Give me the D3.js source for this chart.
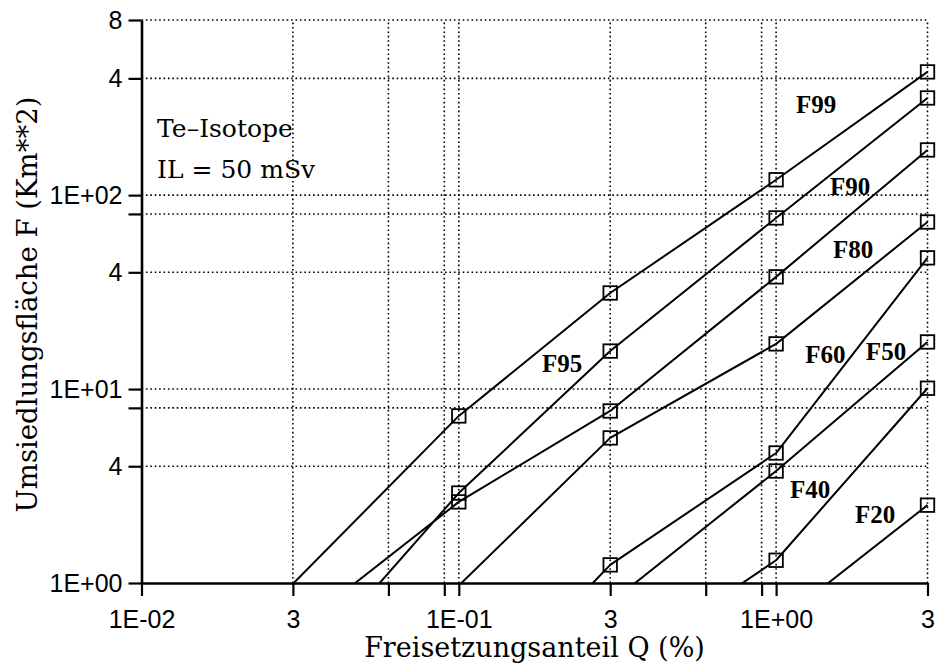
<!DOCTYPE html>
<html><head><meta charset="utf-8">
<script src="https://cdn.jsdelivr.net/npm/d3@7"></script>
<style>
html,body{margin:0;padding:0;background:#fff;}
svg{display:block;}
</style></head><body>
<svg id="chart" width="938" height="668"></svg>
<script>
// ---- data ----
const qValues = [0.03, 0.1, 0.3, 1, 3];               // Freisetzungsanteil Q (%)
const seriesNames = ["F99","F95","F90","F80","F60","F50","F40","F20"];
const f99 = [0.99, 7.27, 31.3, 120, 432];
const f95 = [0.31, 2.91, 15.7, 76.3, 317];
const f90 = [0.56, 2.62, 7.71, 37.9, 171];
const f80 = [null, 0.97, 5.6, 17.1, 72.7];
const f60 = [null, 0.19, 1.24, 4.68, 47.5];
const f50 = [null, null, 0.79, 3.78, 17.5];
const f40 = [null, null, 0.345, 1.31, 10.1];
const f20 = [null, null, null, 0.615, 2.52];
const xTickValues = [0.01, 0.03, 0.06, 0.09, 0.1, 0.3, 0.6, 0.9, 1, 3];
const xTickLabels = ["1E-02","3","","","1E-01","3","","","1E+00","3"];
const yTickValues = [1, 4, 8, 10, 40, 80, 100, 400, 800];
const yTickLabels = ["1E+00","4","","1E+01","4","","1E+02","4","8"];
// series label anchors, in data units (Q, F)
const labelQ = [1.336, 0.2115, 1.71, 1.75, 1.43, 2.22, 1.28, 2.05];
const labelF = [265, 12.2, 100, 47.4, 13.6, 14.1, 2.74, 2.04];
const noteLines = ["Te–Isotope", "IL = 50 mSv"];
const noteQ = [0.0112, 0.0112];
const noteF = [200, 123];
const xTitle = "Freisetzungsanteil Q (%)";
const yTitle = "Umsiedlungsfläche F (Km**2)";

const seriesValues = [f99, f95, f90, f80, f60, f50, f40, f20];

// ---- layout ----
const svg = d3.select("#chart");
const x = d3.scaleLog().domain([0.01, 3]).range([141.5, 927.5]);
const y = d3.scaleLog().domain([1, 800]).range([583, 20]);
const [x0, x1] = x.range();
const [y0, y1] = y.range();

// clip
svg.append("defs").append("clipPath").attr("id","plotclip")
  .append("rect").attr("x", x0).attr("y", 0).attr("width", x1 - x0 + 10).attr("height", y0);

// gridlines
const grid = svg.append("g").attr("stroke","#000").attr("stroke-width",1.6)
  .attr("stroke-dasharray","1.6,2.8").attr("fill","none");
grid.selectAll("line.v").data(xTickValues.filter(v => v > 0.01)).join("line")
  .attr("class","v")
  .attr("x1", d => x(d)).attr("x2", d => x(d))
  .attr("y1", y0).attr("y2", y1);
grid.selectAll("line.h").data(yTickValues.filter(v => v > 1)).join("line")
  .attr("class","h")
  .attr("y1", d => y(d)).attr("y2", d => y(d))
  .attr("x1", x0).attr("x2", x1);

// series
const line = d3.line()
  .defined(d => d.f != null)
  .x(d => x(d.q)).y(d => y(d.f));
const series = seriesNames.map((name, i) => ({
  name,
  points: qValues.map((q, j) => ({q, f: seriesValues[i][j]}))
}));
const plot = svg.append("g").attr("clip-path","url(#plotclip)");
plot.selectAll("path.series").data(series).join("path")
  .attr("class","series")
  .attr("fill","none").attr("stroke","#000").attr("stroke-width",2)
  .attr("stroke-linejoin","round")
  .attr("d", d => line(d.points));

// markers (only points visible above the axis)
const pts = series.flatMap(s => s.points.filter(p => p.f != null && p.f >= 1));
const sq = 13.5;
svg.append("g").selectAll("rect").data(pts).join("rect")
  .attr("x", d => x(d.q) - sq/2).attr("y", d => y(d.f) - sq/2)
  .attr("width", sq).attr("height", sq)
  .attr("fill","none").attr("stroke","#000").attr("stroke-width",1.8);

// axes
const xAxis = d3.axisBottom(x).tickValues(xTickValues)
  .tickFormat((d, i) => xTickLabels[i]).tickSize(13).tickSizeOuter(0).tickPadding(14);
const yAxis = d3.axisLeft(y).tickValues(yTickValues)
  .tickFormat((d, i) => yTickLabels[i]).tickSize(13).tickSizeOuter(0).tickPadding(6);

const gx = svg.append("g").attr("transform", `translate(0,${y0})`).call(xAxis);
const gy = svg.append("g").attr("transform", `translate(${x0},0)`).call(yAxis);
[gx, gy].forEach(g => {
  g.select(".domain").attr("stroke","#000").attr("stroke-width",2.6);
  g.selectAll(".tick line").attr("stroke","#000").attr("stroke-width",2.2);
  g.selectAll(".tick text").attr("fill","#000")
    .style("font-family","'Liberation Sans', Arial, sans-serif").style("font-size","25px");
});

// series labels
svg.append("g").selectAll("text").data(seriesNames).join("text")
  .attr("x", (d, i) => x(labelQ[i])).attr("y", (d, i) => y(labelF[i]))
  .attr("text-anchor","middle")
  .style("font-family","'Liberation Serif', 'Times New Roman', serif")
  .style("font-weight","bold").style("font-size","25px")
  .text(d => d);

// notes
svg.append("g").selectAll("text").data(noteLines).join("text")
  .attr("x", (d, i) => x(noteQ[i])).attr("y", (d, i) => y(noteF[i]))
  .style("font-family","'DejaVu Serif', serif").style("font-size","25px")
  .text(d => d);

// axis titles
svg.append("text")
  .attr("x", (x0 + x1) / 2).attr("y", 657)
  .attr("text-anchor","middle")
  .style("font-family","'DejaVu Serif', serif").style("font-size","27px")
  .text(xTitle);
svg.append("text")
  .attr("transform", `translate(37,${(y0 + y1) / 2 + 3}) rotate(-90)`)
  .attr("text-anchor","middle")
  .style("font-family","'DejaVu Serif', serif").style("font-size","27.5px")
  .text(yTitle);
</script>
</body></html>
